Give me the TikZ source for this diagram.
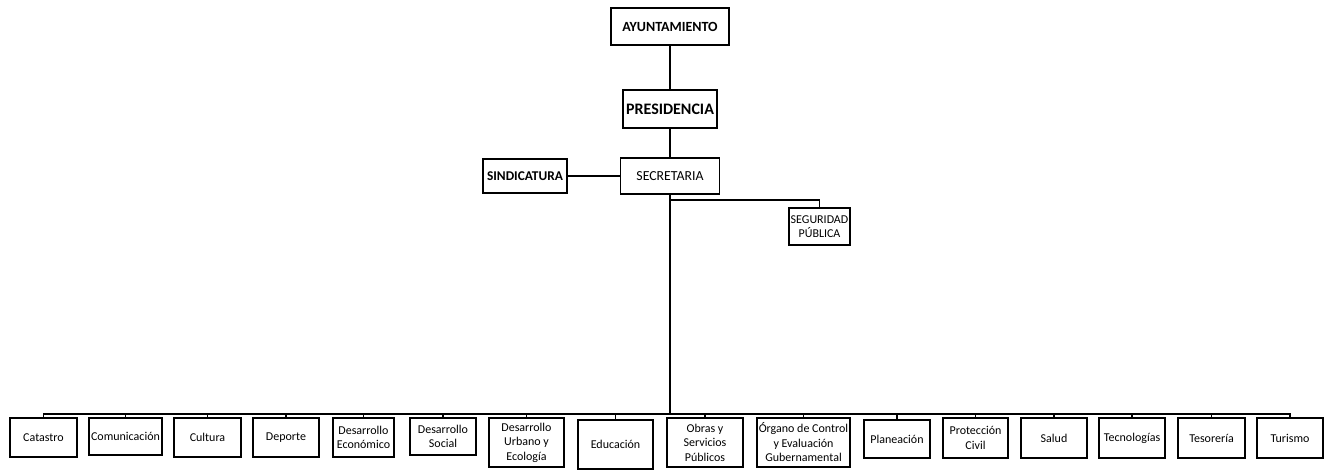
\documentclass[tikz,border=0pt]{standalone}
\usepackage{fontspec}
\setmainfont{Carlito}
\usepackage{tikz}

\begin{document}
\begin{tikzpicture}[x=1pt, y=-1pt,
    line/.style={line width=1.3pt},
    head/.style={draw, line width=1.4pt, font=\fontsize{14}{16}\selectfont\bfseries, inner sep=1pt},
    unit/.style={draw, line width=1.4pt, font=\fontsize{12}{14.5}\selectfont, align=center, inner sep=1pt}]
    \useasboundingbox (0,0) rectangle (1327,470);
    % top of the chart
    \node[head, minimum width=118pt, minimum height=37pt] (ayuntamiento) at (670,26.5) {AYUNTAMIENTO};
    \node[head, minimum width=94pt, minimum height=38pt, font=\fontsize{16}{18}\selectfont\bfseries] (presidencia) at (670,109) {PRESIDENCIA};
    \node[head, minimum width=99pt, minimum height=36pt, font=\fontsize{13.8}{16}\selectfont] (secretaria) at (670,176) {SECRETARIA};
    \node[head, minimum width=84pt, minimum height=34pt, font=\fontsize{13.4}{16}\selectfont\bfseries] (sindicatura) at (525,176) {SINDICATURA};
    \node[unit, minimum width=61pt, minimum height=37pt, inner sep=0pt, font=\fontsize{12}{14}\selectfont] (seguridad) at (819.5,226.5) {SEGURIDAD\\PÚBLICA};
    \coordinate (branch) at (670,200);
    \coordinate (bus) at (670,414);
    % areas
    \node[unit, minimum width=67pt, minimum height=39pt] (catastro) at (43.5,437.5) {Catastro};
    \node[unit, minimum width=73pt, minimum height=37pt] (comunicacion) at (125.5,436.5) {Comunicación};
    \node[unit, minimum width=67pt, minimum height=39pt] (cultura) at (207.5,437.5) {Cultura};
    \node[unit, minimum width=66pt, minimum height=39pt] (deporte) at (286,437.5) {Deporte};
    \node[unit, minimum width=61pt, minimum height=39pt] (economico) at (363.5,437.5) {Desarrollo\\Económico};
    \node[unit, minimum width=66pt, minimum height=37pt] (social) at (443,436.5) {Desarrollo\\Social};
    \node[unit, minimum width=75pt, minimum height=49pt] (urbano) at (526.5,442.5) {Desarrollo\\Urbano y\\Ecología};
    \node[unit, minimum width=75pt, minimum height=49pt] (educacion) at (615.5,444.5) {Educación};
    \node[unit, minimum width=76pt, minimum height=49pt] (obras) at (705,442.5) {Obras y\\Servicios\\Públicos};
    \node[unit, minimum width=93pt, minimum height=49pt] (organo) at (803.5,442.5) {Órgano de Control\\y Evaluación\\Gubernamental};
    \node[unit, minimum width=66pt, minimum height=38pt] (planeacion) at (897,439) {Planeación};
    \node[unit, minimum width=65pt, minimum height=40pt] (proteccion) at (975.5,438) {Protección\\Civil};
    \node[unit, minimum width=66pt, minimum height=40pt] (salud) at (1054,438) {Salud};
    \node[unit, minimum width=66pt, minimum height=40pt] (tecnologias) at (1132,438) {Tecnologías};
    \node[unit, minimum width=67pt, minimum height=40pt] (tesoreria) at (1211.5,438) {Tesorería};
    \node[unit, minimum width=66pt, minimum height=40pt] (turismo) at (1290,438) {Turismo};
    % connectors
    \draw[line] (ayuntamiento) -- (presidencia);
    \draw[line] (presidencia) -- (secretaria);
    \draw[line] (sindicatura) -- (secretaria);
    \draw[line] (secretaria) -- (bus);
    \draw[line] (branch) -| (seguridad);
    \foreach \n in {catastro,comunicacion,cultura,deporte,economico,social,urbano,educacion,
                    obras,organo,planeacion,proteccion,salud,tecnologias,tesoreria,turismo}
        \draw[line] (bus) -| (\n.north);
\end{tikzpicture}
\end{document}
